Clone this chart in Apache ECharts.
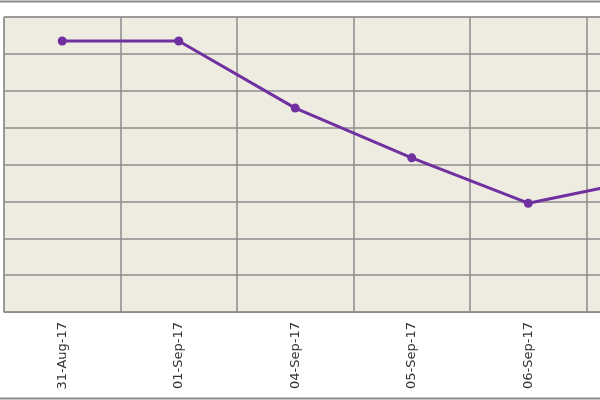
<!DOCTYPE html>
<html>
<head>
<meta charset="utf-8">
<script src="https://cdn.jsdelivr.net/npm/echarts@6/dist/echarts.min.js"></script>
<style>
html,body{margin:0;padding:0;background:#fff;overflow:hidden;width:600px;height:400px;}
#c{width:720px;height:400px;}
</style>
</head>
<body>
<div id="c"></div>
<script>
var categories = ['31-Aug-17','01-Sep-17','04-Sep-17','05-Sep-17','06-Sep-17','07-Sep-17'];
var values = [7.35, 7.35, 5.53, 4.18, 2.95, 3.6];
var yMin = 0, yMax = 8, yStep = 1;

var chart = echarts.init(document.getElementById('c'));
chart.setOption({
  animation: false,
  backgroundColor: '#ffffff',
  graphic: [
    {type:'line', shape:{x1:0,y1:1.5,x2:720,y2:1.5}, style:{stroke:'#8a8a8a',lineWidth:2}, z:100},
    {type:'line', shape:{x1:0,y1:398.5,x2:720,y2:398.5}, style:{stroke:'#8a8a8a',lineWidth:2}, z:100}
  ],
  grid: {left:4, top:17, width:699, height:295, containLabel:false,
         show:true, backgroundColor:'#EEECE1', borderColor:'#8c8c8c', borderWidth:1},
  xAxis: {
    type:'category', data:categories, boundaryGap:true,
    axisLine:{show:true, lineStyle:{color:'#8c8c8c'}},
    axisTick:{show:false},
    splitLine:{show:true, lineStyle:{color:'#8c8c8c', width:1.5}},
    axisLabel:{rotate:90, margin:10, fontFamily:'DejaVu Sans', fontSize:13, color:'#333333', interval:0}
  },
  yAxis: {
    type:'value', min:yMin, max:yMax, interval:yStep,
    axisLabel:{show:false}, axisLine:{show:false}, axisTick:{show:false},
    splitLine:{show:true, lineStyle:{color:'#8c8c8c', width:1.5}}
  },
  series: [{
    type:'line', data:values,
    symbol:'circle', symbolSize:9,
    lineStyle:{color:'#7030A0', width:3},
    itemStyle:{color:'#7030A0'}
  }]
});
</script>
</body>
</html>
